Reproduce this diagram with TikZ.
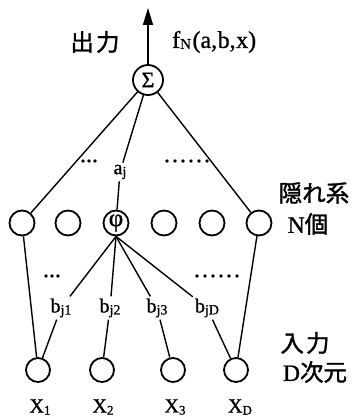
\documentclass[tikz,border=0pt]{standalone}
\usepackage{fontspec}
\setmainfont{Liberation Serif}[FakeBold=1]
\newfontfamily\jp{Noto Sans CJK JP}[FakeBold=1.5]
\usetikzlibrary{arrows.meta}
% a row of n bold dots separated by a given kern
\newcommand{\dotrow}[2]{\foreach \k in {1,...,#1}{\ifnum\k>1\kern#2\fi.}}
\begin{document}
\begin{tikzpicture}[x=1pt,y=-1pt,
  unit/.style={circle,draw,line width=1.8pt,minimum size=25pt,inner sep=0pt},
  sumunit/.style={circle,draw,line width=1.8pt,minimum size=30pt,inner sep=0pt,
    font=\fontsize{22}{22}\selectfont},
  wire/.style={line width=1.4pt},
  lab/.style={inner sep=2pt,font=\fontsize{20}{20}\selectfont},
  jlab/.style={inner sep=0pt,font=\jp\fontsize{23.5}{25}\selectfont},
  dotlab/.style={inner sep=0pt,font=\fontsize{18}{18}\selectfont\bfseries}]
\useasboundingbox (0,0) rectangle (357,419);

% output unit and output arrow
\node[sumunit] (sig) at (148,80) {Σ};
\coordinate (out) at (148,8);
\draw[wire,-{Triangle[length=17pt,width=10pt]}] (sig) -- (out);
\node[jlab] (outj) at (95,42) {出\kern2pt 力};
\node[lab,anchor=west,font=\fontsize{24}{24}\selectfont] (fn) at (170,42)
  {f\raisebox{-1pt}{\fontsize{15}{15}\selectfont N}\kern1.5pt(a,\kern0.5pt b,\kern0.5pt x)};

% hidden units
\foreach \i/\x in {1/22,2/68,4/164,5/212,6/259}
  \node[unit] (h\i) at (\x,223) {};
\node[unit] (h3) at (116,223) {\raisebox{1pt}{\fontsize{25}{25}\selectfont φ}};

% input units
\foreach \i/\x in {1/38,2/102,3/173,4/236}
  \node[unit,minimum size=24pt] (in\i) at (\x,370) {};

% input labels
\node[lab] (x1) at (40,407) {X\raisebox{-2pt}{\fontsize{13}{13}\selectfont 1}};
\node[lab] (x2) at (103,407) {X\raisebox{-2pt}{\fontsize{13}{13}\selectfont 2}};
\node[lab] (x3) at (175,407) {X\raisebox{-2pt}{\fontsize{13}{13}\selectfont 3}};
\node[lab] (xd) at (240,407) {X\raisebox{-2pt}{\fontsize{13}{13}\selectfont D}};

% weight labels
\node[lab] (aj) at (120,172) {a\raisebox{-2pt}{\fontsize{14}{14}\selectfont j}};
\node[lab] (b1) at (61,308) {b\raisebox{-2pt}{\fontsize{14}{14}\selectfont j1}};
\node[lab] (b2) at (110,308) {b\raisebox{-2pt}{\fontsize{14}{14}\selectfont j2}};
\node[lab] (b3) at (157,308) {b\raisebox{-2pt}{\fontsize{14}{14}\selectfont j3}};
\node[lab] (bd) at (207,308) {b\raisebox{-2pt}{\fontsize{14}{14}\selectfont jD}};

% output weights
\draw[wire] (sig) -- (h1);
\draw[wire] (sig) -- (h6);
\draw[wire] (sig) -- (aj) -- (h3);

% input weights
\draw[wire] (h1) -- (in1);
\draw[wire] (h6) -- (in4);
\draw[wire] (h3.south) -- (b1) -- (in1);
\draw[wire] (h3.south) -- (b2) -- (in2);
\draw[wire] (h3.south) -- (b3) -- (in3);
\draw[wire] (h3.south) -- (bd) -- (in4);

% ellipsis marks
\node[dotlab] (d1) at (89,161) {\dotrow{3}{1.5pt}};
\node[dotlab] (d2) at (187,161) {\dotrow{6}{3.5pt}};
\node[dotlab] (d3) at (52,276) {\dotrow{3}{1.5pt}};
\node[dotlab] (d4) at (217,276) {\dotrow{6}{3.5pt}};

% layer captions
\node[jlab] (hid) at (314,193) {隠れ系};
\node[jlab] (hidn) at (308,224) {\rmfamily N\jp 個};
\node[jlab] (inp) at (305,343) {入\kern2pt 力};
\node[jlab] (inpd) at (315,372) {\rmfamily D\jp 次元};
\end{tikzpicture}
\end{document}
